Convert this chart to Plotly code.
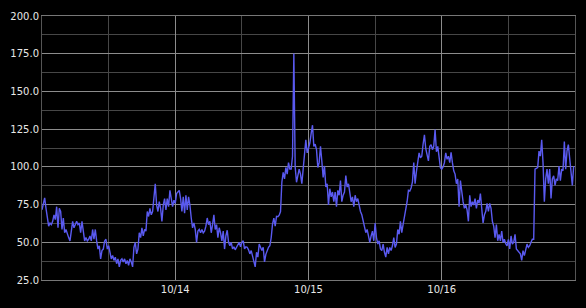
import pandas as pd
import plotly.graph_objects as go

start_time = "2023-10-13 00:00:00"
sample_seconds = 864  # sampling interval of the series

values = [
    # 10/13 night -> morning
    71.5, 76.9, 79.5, 72.5, 66.1, 60.7, 62.8, 61.7, 63.9, 68.2, 65, 73.6, 59.6, 72.5, 70.4, 58.5, 66.1, 56.3, 58.5, 55.3,
    53.1, 50.9, 56.3, 63.9, 59.6, 61.7, 63.9, 61.7, 62.8, 56.3, 63.9, 57.4, 50.9, 53.1, 50.9, 52, 54.2, 50.9, 58.5, 52,
    58.5, 50.9, 45.5, 47.7, 39, 44.5, 45.5, 50.9, 52, 45.5, 47.7, 43.4, 39, 41.2, 38, 40.1, 35.8, 39, 33.7, 38,
    39, 36.9, 39, 35.8, 38, 34.7, 39, 36.9, 33.7, 46.6,
    # 10/13 afternoon -> 10/14 morning
    49.9, 42.3, 45.5, 56.3, 53.1, 59.6, 54.2, 58.5, 57.4, 70.4, 67.1, 72.5, 68.2, 70.4, 80.1, 88.7, 74.7, 70.4, 76.9, 72.5,
    63.9, 74.7, 79, 71.5, 79, 73.6, 84.4, 79, 73.6, 77.9, 75.8, 82.3, 83.3, 84.4, 79, 70.4, 80.1, 69.3, 81.2, 71.5,
    80.1, 74.7, 66.1, 59.6, 62.8, 58.5, 49.9, 57.4, 58.5, 56.3, 58.5, 56.3, 57.4, 60.7, 66.1, 61.7, 63.9, 56.3, 61.7, 68.2,
    58.5, 61.7, 53.1, 59.6, 56.3, 50.9, 57.4, 45.5, 54.2,
    # 10/14 midday -> evening
    58, 50, 47.7, 50, 45.6, 47, 45, 46.7, 48, 50, 47, 50, 51, 45.6, 47, 46.7, 45, 42.3, 44.5, 41,
    37, 33.7, 43.4, 40.2, 48.8, 46, 44.5, 46.7, 37, 42, 44.5, 46.7, 47.7, 53, 62, 66, 60.7, 67.2, 67, 68,
    70.4, 89.8,
    # 10/14 night -> 10/15 morning (spike)
    96.3, 92, 99.6, 95.2, 102.8, 98.5, 98.5, 107, 175.2, 100, 89.8, 95, 98.5, 95.2, 88.8, 98.5, 111.4, 118, 109.3, 113,
    115.8, 122.2, 127.6, 113.6, 115, 111.4, 99.6,
    # 10/15 day
    102.8, 113.6, 103.9, 93, 100.6, 86.6, 88.8, 74.7, 85.5, 80.1, 83.3, 76.9, 83.3, 73.6, 84.4, 81.2, 90.9, 76.9, 81.2, 83.3,
    94.2, 86.6, 88.8, 81.2, 76.9, 80.1, 73.6, 81.2, 76.9, 79, 73.6, 70.4, 68.2, 63.9, 58.5, 56.4, 58.5, 54.2, 49.9, 54.2,
    57.4, 51, 62.8, 53.1, 48.8, 51, 45.6, 44.5, 48.8, 43.4, 40.2, 46.6, 42.3, 46.6, 44.5, 47.7, 53.1, 46.6, 48.8, 58.5,
    55.3, 63.9, 56.4, 61.8, 66.1, 70.4, 76.9, 84.4,
    # 10/15 night -> 10/16 afternoon
    84, 86, 90, 102.8, 88.8, 97, 105, 109.3, 106, 107, 115, 121.2, 112, 108, 104, 113.6, 114.7, 111.4, 113.6, 124.8,
    110, 113.6, 107.1, 99.5, 98.5, 100, 102.8, 109.3, 105, 107.1, 102.8, 109.7, 102.8, 97.4, 95.2, 88.8, 92, 73.6, 90.9, 83.3,
    76.9, 72.5, 74.7, 71.5, 63.9, 81.2, 73.6, 76.9, 74.7, 79, 72.5, 78, 75.8, 82.3, 72.5, 62.8, 68.2, 70.4, 75.8, 70.4,
    75.8, 72.5, 63.9, 60.7, 53.1, 61.8, 51, 55.3, 51,
    # 10/16 evening -> end
    57.4, 49.9, 52, 49, 47.7, 52, 45.6, 54.2, 48.8, 50, 55.3, 45.6, 44.5, 43, 42.3, 38, 44.5, 41.2, 46, 48.8,
    46.6, 47.7, 50, 52, 52, 98.5, 99, 99.5, 110.4, 107.1, 117.9, 102.8, 76.9, 92, 98.5, 88.8, 98.5, 79, 92, 94.1,
    87.7, 92, 90.9, 100.6, 90.9, 98.5, 97.4, 116.8, 98.5, 110.4, 114.7, 105, 97.4, 87.7, 100.6,
]

x_range = ["2023-10-13 00:00:00", "2023-10-17 00:00:00"]
x_tickvals = ["2023-10-14", "2023-10-15", "2023-10-16"]
x_ticktext = ["10/14", "10/15", "10/16"]
y_range = [25, 200]

times = pd.date_range(start=start_time, periods=len(values), freq=f"{sample_seconds}s")

fig = go.Figure(
    go.Scatter(
        x=times,
        y=values,
        mode="lines",
        line=dict(color="#5a5af0", width=1.4),
        hoverinfo="skip",
    )
)

major_grid = "#8c8c8c"
minor_grid = "#474747"

fig.update_layout(
    width=586,
    height=308,
    margin=dict(l=40, r=10, t=10, b=28),
    paper_bgcolor="#000000",
    plot_bgcolor="#000000",
    showlegend=False,
    font=dict(family="DejaVu Sans", size=10, color="#e8e8e8"),
    xaxis=dict(
        range=x_range,
        tickmode="array",
        tickvals=x_tickvals,
        ticktext=x_ticktext,
        showgrid=True,
        gridcolor=major_grid,
        gridwidth=1,
        zeroline=False,
        ticks="",
        showline=True,
        linecolor="#777777",
        linewidth=1,
        mirror=True,
        minor=dict(
            tickmode="linear",
            tick0="2023-10-13 12:00:00",
            dtick=86400000,
            showgrid=True,
            gridcolor=minor_grid,
            gridwidth=1,
        ),
        tickfont=dict(size=10, color="#e8e8e8"),
    ),
    yaxis=dict(
        range=y_range,
        tickmode="linear",
        tick0=25,
        dtick=25,
        tickformat=".1f",
        showgrid=True,
        gridcolor=major_grid,
        gridwidth=1,
        zeroline=False,
        ticks="",
        showline=True,
        linecolor="#555555",
        linewidth=1,
        mirror=True,
        minor=dict(
            tickmode="linear",
            tick0=12.5,
            dtick=25,
            showgrid=True,
            gridcolor=minor_grid,
            gridwidth=1,
        ),
        tickfont=dict(size=10, color="#e8e8e8"),
    ),
)

fig.write_html("out.html")
